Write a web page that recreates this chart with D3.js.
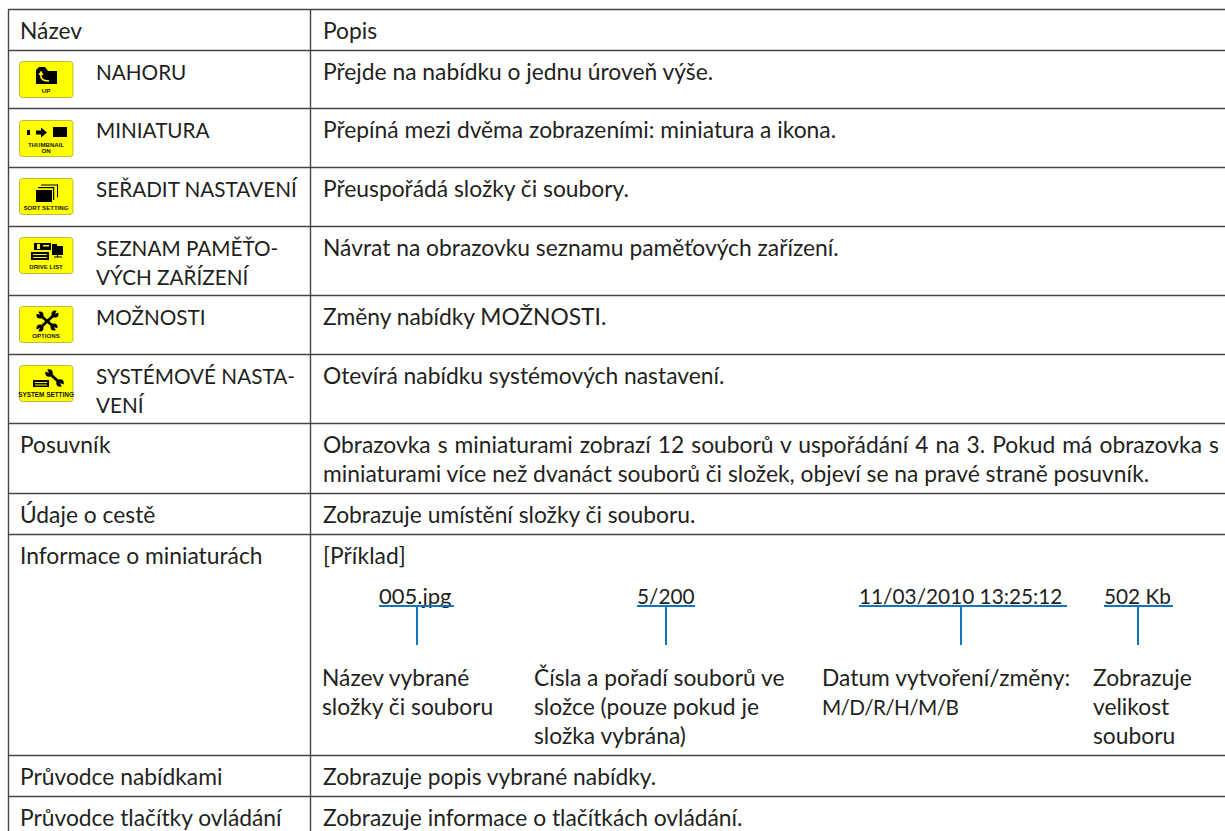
<!DOCTYPE html>
<html><head><meta charset="utf-8">
<script src="https://cdn.jsdelivr.net/npm/d3@7"></script>
<style>html,body{margin:0;padding:0;background:#fff}svg{display:block}
text{font-family:"Lato","Open Sans",sans-serif;fill:#231f20;font-size:22.8px}</style></head>
<body><div id="c"></div>
<script>
const rowLines=[9,50,108,167,226,295,354,423,493,534,755,796,837];
const colX=[8,310,1225];
const names=[["Název"],["NAHORU"],["MINIATURA"],["SEŘADIT NASTAVENÍ"],["SEZNAM PAMĚŤO-","VÝCH ZAŘÍZENÍ"],["MOŽNOSTI"],["SYSTÉMOVÉ NASTA-","VENÍ"],["Posuvník"],["Údaje o cestě"],["Informace o miniaturách"],["Průvodce nabídkami"],["Průvodce tlačítky ovládání"]];
const descs=[["Popis"],["Přejde na nabídku o jednu úroveň výše."],["Přepíná mezi dvěma zobrazeními: miniatura a ikona."],["Přeuspořádá složky či soubory."],["Návrat na obrazovku seznamu paměťových zařízení."],["Změny nabídky MOŽNOSTI."],["Otevírá nabídku systémových nastavení."],["Obrazovka s miniaturami zobrazí 12 souborů v uspořádání 4 na 3. Pokud má obrazovka s","miniaturami více než dvanáct souborů či složek, objeví se na pravé straně posuvník."],["Zobrazuje umístění složky či souboru."],["[Příklad]"],["Zobrazuje popis vybrané nabídky."],["Zobrazuje informace o tlačítkách ovládání."]];
const iconLabels=[null,["UP"],["THUMBNAIL","ON"],["SORT SETTING"],["DRIVE LIST"],["OPTIONS"],["SYSTEM SETTING"]];
const iconTop=[0,61,120,178,237,306,365];
const samples=["005.jpg","5/200","11/03/2010 13:25:12","502 Kb"];
const sampleX=[379,637,859,1104];
const sampleEnd=[454,695,1067,1173];
const stemX=[417,666,961,1138];
const notes=[["Název vybrané","složky či souboru"],["Čísla a pořadí souborů ve","složce (pouze pokud je","složka vybrána)"],["Datum vytvoření/změny:","M/D/R/H/M/B"],["Zobrazuje","velikost","souboru"]];
const noteX=[322,534,822,1093];
const W=1225,H=831,LH=29;
const svg=d3.select("#c").append("svg").attr("width",W).attr("height",H);
const ink="#454545",blue="#0f75bc";
const line=(x1,y1,x2,y2,c,w)=>svg.append("line").attr("x1",x1).attr("y1",y1).attr("x2",x2).attr("y2",y2).attr("stroke",c).attr("stroke-width",w);
svg.selectAll("line.r").data(rowLines.slice(0,-1)).join("line").attr("class","r").attr("x1",colX[0]).attr("x2",W).attr("y1",d=>d+.5).attr("y2",d=>d+.5).attr("stroke",ink).attr("stroke-width",1.4);
[colX[0],colX[1]].forEach(x=>line(x+.5,9,x+.5,H,ink,1.4));
// uppercase and digit strings run narrower in the reference face
const isCaps=t=>t===t.toUpperCase();
function lines(x,y,arr){arr.forEach((t,i)=>{
 const n=svg.append("text").attr("x",x).attr("y",y+i*LH).text(t);
 if(isCaps(t)) n.style("font-size","20.7px");
 if(t==="M/D/R/H/M/B") n.style("letter-spacing","-0.6px");
 if(t.startsWith("Obrazovka s")) n.style("word-spacing","1.2px");
});}
const hasIcon=i=>i>=1&&i<=6;
names.forEach((n,i)=>lines(hasIcon(i)?96:20,rowLines[i]+30,n));
descs.forEach((d,i)=>lines(323,rowLines[i]+30,d));
samples.forEach((s,i)=>{
 const t=svg.append("text").attr("x",sampleX[i]).attr("y",604).text(s);
 t.style("font-size",i==0?"22px":"20.8px");
 line(sampleX[i],606,sampleEnd[i],606,blue,2);
 line(stemX[i],606,stemX[i],645,blue,2);
 lines(noteX[i],686,notes[i]);
});
function wrench(g,x1,y1,x2,y2,w){
 const k="#000",y="#ff0";
 g.append("line").attr("x1",x1).attr("y1",y1).attr("x2",x2).attr("y2",y2).attr("stroke",k).attr("stroke-width",w);
 [[x1,y1,x1-x2,y1-y2],[x2,y2,x2-x1,y2-y1]].forEach(([x,yy,dx,dy])=>{
  const L=Math.hypot(dx,dy),ux=dx/L,uy=dy/L;
  g.append("circle").attr("cx",x).attr("cy",yy).attr("r",w*1.25).attr("fill",k);
  g.append("path").attr("d",`M${x},${yy} L${x+ux*6-uy*2.2},${yy+uy*6+ux*2.2} L${x+ux*6+uy*2.2},${yy+uy*6-ux*2.2}z`).attr("fill",y);
 });
}
function icon(i){
 const g=svg.append("g").attr("transform",`translate(19,${iconTop[i]})`);
 g.append("rect").attr("x",.5).attr("y",.5).attr("width",53.5).attr("height",36).attr("rx",3).attr("fill","#ffff00").attr("stroke","#a8a830").attr("stroke-width",.8);
 const ls=iconLabels[i];
 ls.forEach((t,k)=>g.append("text").attr("x",27).attr("y",(ls.length>1?27:32)+k*6).attr("text-anchor","middle").style("font-family","Liberation Sans").style("font-weight","700").style("font-size",i==6?"6.4px":"6.1px").style("fill","#111").text(t));
 const k="#000",yl="#ff0";
 const R=(x,y,w,h,c)=>g.append("rect").attr("x",x).attr("y",y).attr("width",w).attr("height",h).attr("fill",c||k);
 if(i==1){g.append("path").attr("d","M17,9 l3,-3 h6 l3,4 h9 v13 h-21z").attr("fill",k);g.append("path").attr("d","M22,13 v3 q1,4 8,4").attr("fill","none").attr("stroke",yl).attr("stroke-width",1.6);g.append("path").attr("d","M19.5,14 l2.5,-4.5 l2.5,4.5z").attr("fill",yl);}
 if(i==2){R(8,10,3,5);g.append("path").attr("d","M17,10.5 h5 v-3 l6,5 l-6,5 v-3 h-5z").attr("fill",k);R(34,7,14,10);}
 if(i==3){R(17,12,16,12);R(19,9,16,1.2);R(34,9,1.2,13);R(22,6.5,17,1);R(38,6.5,1,13);}
 if(i==4){R(15,6,17,7);R(18,7,3,5,yl);R(24,8,6,1.5,yl);R(12,15,18,8);R(14,17,14,1,yl);R(14,20,14,1,yl);R(33,9,11,9);R(33,7,5,2);R(38,18,1,2);R(35,19.5,8,1);}
 if(i==5){wrench(g,21,9,35,21,2.8);wrench(g,36,8,21,22,2.8);}
 if(i==6){R(14,15,16,7);R(16,17,12,1,yl);R(16,19.5,12,1,yl);wrench(g,30,8,41,18,3);}
}
[1,2,3,4,5,6].forEach(icon);
</script></body></html>
